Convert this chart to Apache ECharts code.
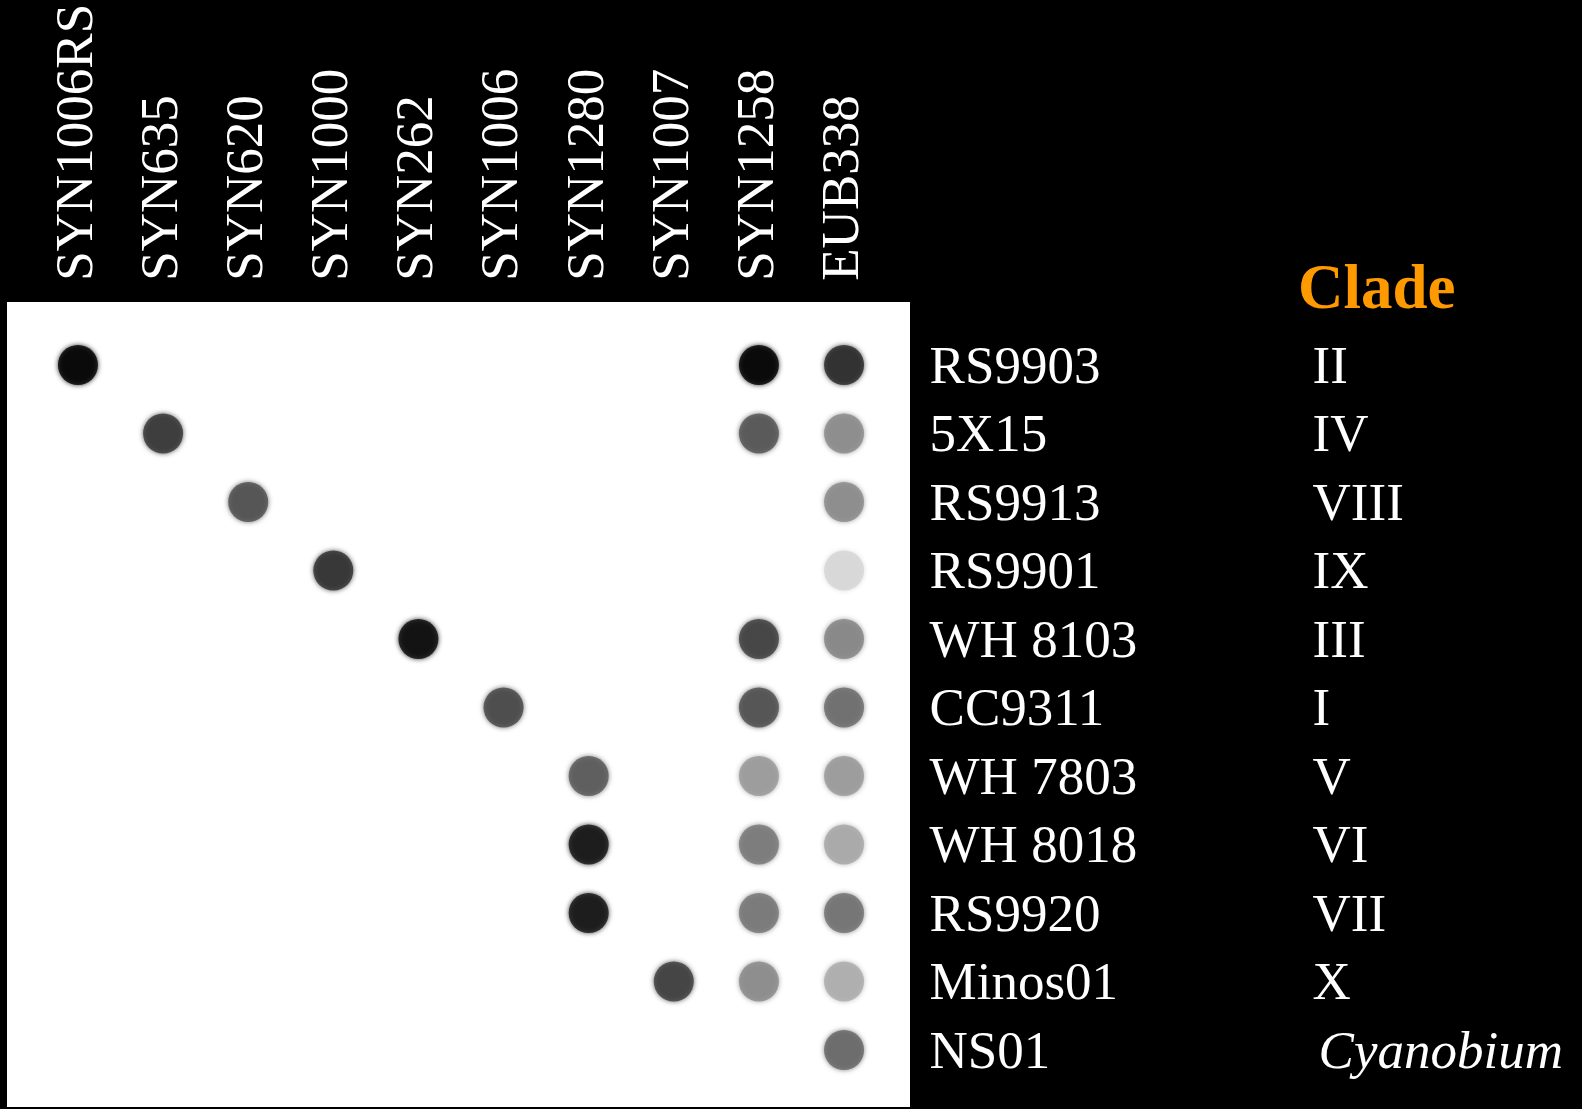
<!DOCTYPE html>
<html>
<head>
<meta charset="utf-8">
<script src="https://cdn.jsdelivr.net/npm/echarts@6/dist/echarts.min.js"></script>
<style>
  html, body { margin: 0; padding: 0; background: #000; }
  #chart { width: 1582px; height: 1109px; }
</style>
</head>
<body>
<div id="chart"></div>
<script>
// Oligonucleotide probes (columns)
const probes = ['SYN1006RS', 'SYN635', 'SYN620', 'SYN1000', 'SYN262', 'SYN1006', 'SYN1280', 'SYN1007', 'SYN1258', 'EUB338'];
// Strains (rows)
const strains = ['RS9903', '5X15', 'RS9913', 'RS9901', 'WH 8103', 'CC9311', 'WH 7803', 'WH 8018', 'RS9920', 'Minos01', 'NS01'];
// Clade of each strain
const clades = ['II', 'IV', 'VIII', 'IX', 'III', 'I', 'V', 'VI', 'VII', 'X', 'Cyanobium'];
// Hybridisation signal strength (0 = none, 1 = saturated), one row per strain, one column per probe
const signal = [
  [1.00, 0,    0,    0,    0,    0,    0,    0,    1.00, 0.84],
  [0,    0.79, 0,    0,    0,    0,    0,    0,    0.67, 0.46],
  [0,    0,    0.69, 0,    0,    0,    0,    0,    0,    0.46],
  [0,    0,    0,    0.81, 0,    0,    0,    0,    0,    0.16],
  [0,    0,    0,    0,    0.96, 0,    0,    0,    0.75, 0.48],
  [0,    0,    0,    0,    0,    0.72, 0,    0,    0.69, 0.58],
  [0,    0,    0,    0,    0,    0,    0.65, 0,    0.40, 0.40],
  [0,    0,    0,    0,    0,    0,    0.92, 0,    0.53, 0.35],
  [0,    0,    0,    0,    0,    0,    0.92, 0,    0.54, 0.56],
  [0,    0,    0,    0,    0,    0,    0,    0.76, 0.46, 0.33],
  [0,    0,    0,    0,    0,    0,    0,    0,    0,    0.60]
];

const FONT = '"Liberation Serif", "Times New Roman", serif';

function grey(v) {
  const g = Math.round(255 * (1 - v));
  return 'rgb(' + g + ',' + g + ',' + g + ')';
}

const dots = [];
signal.forEach(function (row, i) {
  row.forEach(function (v, j) {
    if (v > 0) {
      dots.push({
        value: [j, i, v],
        itemStyle: { color: grey(v), shadowColor: grey(v), shadowBlur: 5 }
      });
    }
  });
});

const chart = echarts.init(document.getElementById('chart'), null, { renderer: 'canvas' });
chart.setOption({
  backgroundColor: '#000',
  animation: false,
  graphic: [
    {
      type: 'rect',
      z: 0,
      shape: { x: 7, y: 302, width: 903, height: 805 },
      style: { fill: '#fff' }
    },
    {
      type: 'text',
      z: 5,
      x: 1298,
      y: 292,
      style: {
        text: 'Clade',
        fill: '#FF9900',
        font: 'bold 63px ' + FONT,
        textAlign: 'left',
        textVerticalAlign: 'middle'
      }
    }
  ],
  grid: { left: 35.4, right: 695.4, top: 330.75, bottom: 24.75, containLabel: false },
  xAxis: {
    type: 'category',
    position: 'top',
    data: probes,
    boundaryGap: true,
    axisLine: { show: false },
    axisTick: { show: false },
    splitLine: { show: false },
    axisLabel: {
      rotate: -90,
      margin: 50,
      interval: 0,
      color: '#fff',
      fontFamily: FONT,
      fontSize: 53
    }
  },
  yAxis: [
    {
      type: 'category',
      position: 'right',
      inverse: true,
      data: strains,
      boundaryGap: true,
      axisLine: { show: false },
      axisTick: { show: false },
      splitLine: { show: false },
      axisLabel: {
        margin: 43,
        interval: 0,
        color: '#fff',
        fontFamily: FONT,
        fontSize: 53,
        align: 'left',
        padding: [8, 0, 0, 0],
        formatter: function (v) { return '{s|' + v + '}'; },
        rich: {
          s: { fontFamily: FONT, fontSize: 53, color: '#fff' }
        }
      }
    },
    {
      type: 'category',
      position: 'right',
      offset: 383,
      inverse: true,
      data: clades,
      boundaryGap: true,
      axisLine: { show: false },
      axisTick: { show: false },
      splitLine: { show: false },
      axisLabel: {
        margin: 43,
        interval: 0,
        color: '#fff',
        fontFamily: FONT,
        fontSize: 53,
        align: 'left',
        padding: [8, 0, 0, 0],
        formatter: function (v) { return v === 'Cyanobium' ? '{i|Cyanobium}' : v; },
        rich: {
          i: { fontStyle: 'italic', fontFamily: FONT, fontSize: 53, color: '#fff', padding: [0, 0, 0, 6] }
        }
      }
    }
  ],
  series: [
    {
      type: 'scatter',
      xAxisIndex: 0,
      yAxisIndex: 0,
      z: 3,
      symbol: 'circle',
      symbolSize: 40,
      data: dots
    }
  ]
});
</script>
</body>
</html>
